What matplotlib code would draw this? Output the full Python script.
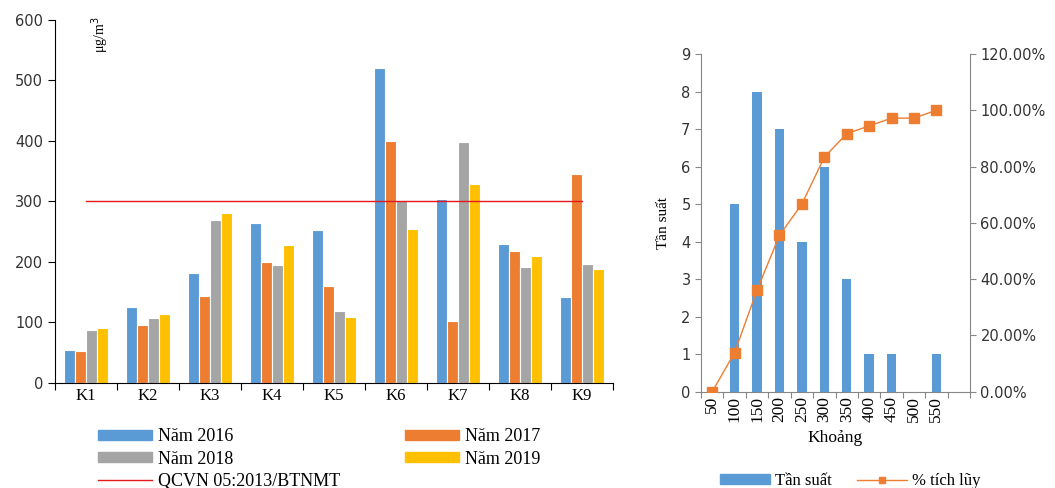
import numpy as np
import matplotlib.pyplot as plt
from matplotlib.ticker import FuncFormatter
from matplotlib.lines import Line2D
from matplotlib.patches import Patch

# left chart: concentration by site and year
sites = ['K1', 'K2', 'K3', 'K4', 'K5', 'K6', 'K7', 'K8', 'K9']
y2016 = [54, 126, 181, 264, 252, 521, 304, 229, 142]
y2017 = [52, 96, 144, 199, 160, 400, 102, 218, 345]
y2018 = [88, 107, 269, 195, 118, 300, 398, 191, 197]
y2019 = [91, 114, 281, 227, 109, 255, 329, 209, 188]
limit = 300
years = ['Năm 2016', 'Năm 2017', 'Năm 2018', 'Năm 2019']
limit_name = 'QCVN 05:2013/BTNMT'

# right chart: histogram
bins = ['50', '100', '150', '200', '250', '300', '350', '400', '450', '500', '550', '']
freq = [0, 5, 8, 7, 4, 6, 3, 1, 1, 0, 1, 0]
cum_pct = [0.0, 13.89, 36.11, 55.56, 66.67, 83.33, 91.67, 94.44, 97.22, 97.22, 100.0]

blue = '#5B9BD5'
orange = '#ED7D31'
gray = '#A5A5A5'
yellow = '#FFC000'
red = '#E3191C'
serif = ['Liberation Serif', 'DejaVu Serif']
sans = ['DejaVu Sans']

fig = plt.figure(figsize=(10.55, 4.88), dpi=100)

# ---------------- left chart
ax = fig.add_axes([55/1055, 1-382.7/488, 558/1055, 362.7/488])
x = np.arange(len(sites))
w = 0.18
cols = [blue, orange, gray, yellow]
series = [y2016, y2017, y2018, y2019]
for i, (vals, c) in enumerate(zip(series, cols)):
    ax.bar(x + (i-1.5)*w, vals, w, color=c, edgecolor='white', linewidth=0.8)
ax.plot(x, [limit]*len(sites), color=red, lw=1.0)

ax.set_xlim(-0.5, len(sites)-0.5)
ax.set_ylim(0, 600)
ax.set_yticks(range(0, 601, 100))
ax.set_xticks(np.arange(-0.5, len(sites), 1.0))
ax.set_xticklabels([])
ax.set_xticks(x, minor=True)
ax.set_xticklabels(sites, minor=True, family=serif, fontsize=12)
ax.tick_params(axis='x', which='minor', length=0, pad=4)
ax.tick_params(axis='x', which='major', length=5, direction='out')
ax.tick_params(axis='y', length=5, direction='out', labelsize=10.5)
for lab in ax.get_yticklabels():
    lab.set_family(sans)
    lab.set_color('#333333')
ax.spines['top'].set_visible(False)
ax.spines['right'].set_visible(False)
ax.text(100/1055, 1-35/488, 'μg/m$^3$', transform=fig.transFigure, rotation=90,
        ha='center', va='center', family=serif, fontsize=10)

handles = [Patch(color=blue), Patch(color=gray), Line2D([], [], color=red, lw=1),
           Patch(color=orange), Patch(color=yellow)]
labels = [years[0], years[2], limit_name, years[1], years[3]]
fig.legend(handles, labels, ncol=2, loc='upper left', bbox_to_anchor=(82/1055, 1-412/488),
           frameon=False, prop={'family': serif, 'size': 13}, handlelength=3.0,
           handleheight=0.5, columnspacing=3.6, labelspacing=0.3, handletextpad=0.3)

# ---------------- right chart
ax2 = fig.add_axes([701/1055, 1-391.7/488, 269/1055, 337.7/488])
xb = np.arange(len(bins))
ax2.bar(xb, freq, 0.42, color=blue)
ax2.set_xlim(-0.5, len(bins)-0.5)
ax2.set_ylim(0, 9)
ax2.set_yticks(range(10))
ax2.set_xticks(np.arange(-0.5, len(bins), 1.0))
ax2.set_xticklabels([])
ax2.set_xticks(xb, minor=True)
ax2.set_xticklabels(bins, minor=True, rotation=90, family=serif, fontsize=12.5)
ax2.tick_params(axis='x', which='minor', length=0, pad=3)
ax2.tick_params(axis='x', which='major', length=4, color='#868686')
ax2.tick_params(axis='y', length=4, color='#868686', labelsize=10.5)
for lab in ax2.get_yticklabels():
    lab.set_family(sans)
    lab.set_color('#333333')
for s in ['left', 'bottom']:
    ax2.spines[s].set_color('#868686')
ax2.spines['top'].set_visible(False)
ax2.spines['right'].set_visible(False)
ax2.set_ylabel('Tần suất', family=serif, fontsize=11, labelpad=8)
ax2.set_xlabel('Khoảng', family=serif, fontsize=12.5, labelpad=6)

ax3 = ax2.twinx()
ax3.plot(xb[:len(cum_pct)], cum_pct, color=orange, lw=1, marker='s', markersize=7.5)
ax3.set_ylim(0, 120)
ax3.set_yticks(range(0, 121, 20))
ax3.yaxis.set_major_formatter(FuncFormatter(lambda v, p: '{:.2f}%'.format(v)))
ax3.tick_params(axis='y', length=4, color='#868686', labelsize=10.5)
for lab in ax3.get_yticklabels():
    lab.set_family(sans)
    lab.set_color('#333333')
ax3.spines['right'].set_color('#868686')
ax3.spines['top'].set_visible(False)
ax3.spines['left'].set_visible(False)
ax3.spines['bottom'].set_visible(False)

h2 = [Patch(color=blue), Line2D([], [], color=orange, lw=1, marker='s', markersize=5)]
fig.legend(h2, ['Tần suất', '% tích lũy'], ncol=2, loc='center left',
           bbox_to_anchor=(710/1055, 1-481/488), frameon=False,
           prop={'family': serif, 'size': 12}, handlelength=3.0, handleheight=0.5,
           columnspacing=1.5, handletextpad=0.3, borderpad=0.1)

fig.savefig('out.png', dpi=100)
